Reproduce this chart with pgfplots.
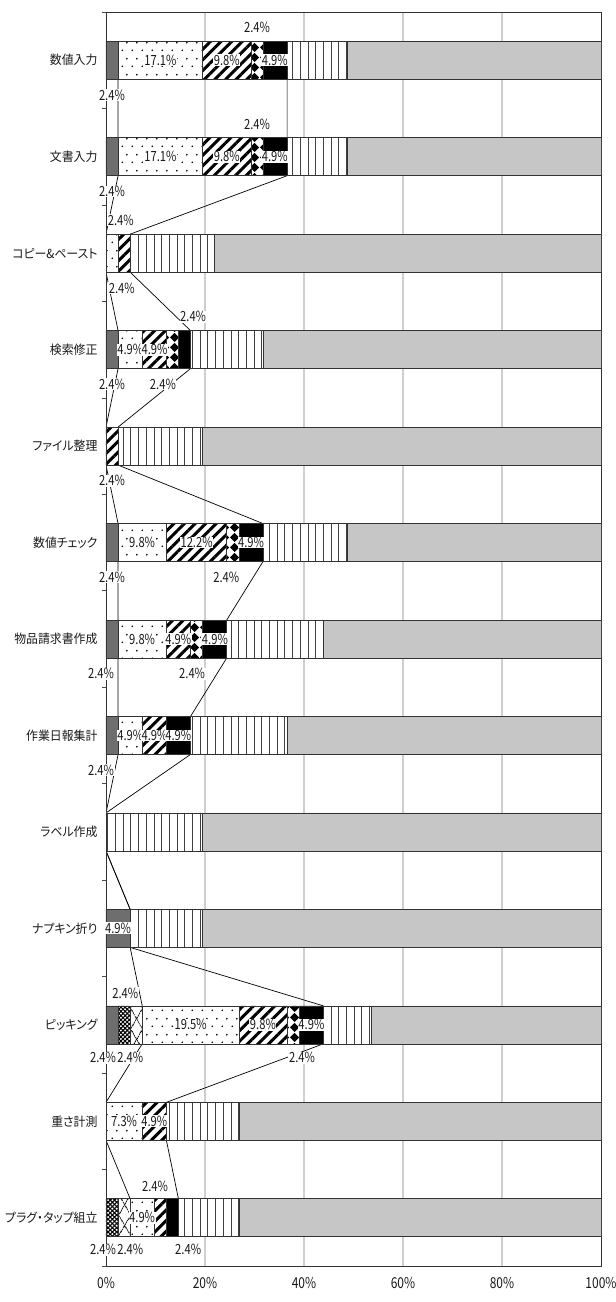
\documentclass[border=0pt]{standalone}
\usepackage{fontspec}
\setmainfont{Noto Sans CJK JP}
\newfontfamily\numfont{Noto Sans CJK JP}[FakeStretch=0.8]
\newfontfamily\jpfont{Noto Sans CJK JP}[RawFeature=+palt, FakeStretch=0.95]
\usepackage{pgfplots}
\pgfplotsset{compat=1.18}
\usetikzlibrary{patterns.meta}

\definecolor{dg}{HTML}{6E6E6E}
\definecolor{lg}{HTML}{C6C6C6}
\definecolor{gridc}{HTML}{CFCFCF}

\tikzdeclarepattern{
  name=sdots, type=uncolored,
  bottom left={(0,0)}, top right={(10bp,16bp)}, tile size={(10bp,16bp)},
  code={\tikzset{x=1bp,y=1bp}
    \fill (2.5,4) circle (1.0);
    \fill (7.5,12) circle (1.0);}
}
\tikzdeclarepattern{
  name=sdiamond, type=uncolored,
  bottom left={(0,0)}, top right={(10bp,10bp)}, tile size={(10bp,10bp)},
  code={\tikzset{x=1bp,y=1bp}
    \fill (5,0) -- (10,5) -- (5,10) -- (0,5) -- cycle;}
}

\pgfplotsset{
  base/.style={scale only axis, width=495bp, height=1254bp,
    at={(0,0)}, anchor=south west,
    xmin=0, xmax=100, ymin=-0.5, ymax=12.5, y dir=reverse},
  seg/.style={draw=black!80, line width=0.6bp, fill=white},
}
\newcommand{\lab}[3]{\node[fill=white, inner sep=0.6bp, font=\numfont\fontsize{14bp}{15bp}\selectfont, text=black!90] at (#1,#2) {#3};}

\begin{document}
\begin{tikzpicture}
\useasboundingbox (-106bp,-36bp) rectangle (510bp,1266bp);

% grid and series lines
\begin{axis}[base,
  axis line style={draw=none},
  xtick={20,40,60,80}, xticklabels={}, ytick=\empty,
  major tick length=0,
  xmajorgrids, grid style={draw=gridc, line width=1.3bp}]
\addplot[black, line width=0.7bp] coordinates {
  (2.44,-0.197)(2.44,0.197)(2.44,0.803)(2.44,1.197)(0,1.803)(0,2.197)
  (2.44,2.803)(2.44,3.197)(0,3.803)(0,4.197)(2.44,4.803)(2.44,5.197)
  (2.44,5.803)(2.44,6.197)(2.44,6.803)(2.44,7.197)(0,7.803)(0,8.197)
  (4.88,8.803)(4.88,9.197)(7.32,9.803)(7.32,10.197)(0,10.803)(0,11.197)
  (4.88,11.803)(4.88,12.197)};
\addplot[black, line width=0.7bp] coordinates {
  (36.59,-0.197)(36.59,0.197)(36.59,0.803)(36.59,1.197)(4.88,1.803)(4.88,2.197)
  (17.07,2.803)(17.07,3.197)(2.44,3.803)(2.44,4.197)(31.71,4.803)(31.71,5.197)
  (24.39,5.803)(24.39,6.197)(17.07,6.803)(17.07,7.197)(0,7.803)(0,8.197)
  (4.88,8.803)(4.88,9.197)(43.90,9.803)(43.90,10.197)(12.20,10.803)(12.20,11.197)
  (14.63,11.803)(14.63,12.197)};
\end{axis}

% stacked bars
\begin{axis}[base,
  xbar stacked, bar width=38bp,
  axis line style={draw=black!80, line width=0.8bp},
  xtick={0,20,...,100},
  xticklabel={\pgfmathprintnumber{\tick}\%},
  /pgf/number format/assume math mode=true,
  xticklabel style={font=\numfont\fontsize{15bp}{16bp}\selectfont, text=black!90, yshift=-8bp},
  ytick={0,...,12},
  yticklabels={数値入力,文書入力,コピー\&ペースト,検索修正,ファイル整理,数値チェック,物品請求書作成,作業日報集計,ラベル作成,ナプキン折り,ピッキング,重さ計測,プラグ・タップ組立},
  yticklabel style={font=\jpfont\fontsize{12.5bp}{14bp}\selectfont, text=black!90, xshift=-5bp},
  major tick length=0,
  minor ytick={-0.5,0.5,...,12.5},
  minor tick length=4bp, tick align=outside, ytick pos=left, xtick pos=bottom,
  minor tick style={draw=black!70, line width=0.6bp}]
% dark gray
\addplot[seg, fill=dg] coordinates {(2.44,0)(2.44,1)(0,2)(2.44,3)(0,4)(2.44,5)(2.44,6)(2.44,7)(0,8)(4.88,9)(2.44,10)(0,11)(0,12)};
% dense crosshatch
\addplot[seg, postaction={pattern={Hatch[angle=45,distance=3bp,line width=1.1bp]}}] coordinates {(0,0)(0,1)(0,2)(0,3)(0,4)(0,5)(0,6)(0,7)(0,8)(0,9)(2.44,10)(0,11)(2.44,12)};
% open diagonal cross
\addplot[seg, postaction={pattern={Lines[angle=60,distance=10bp,line width=0.8bp]}}, postaction={pattern={Lines[angle=120,distance=10bp,line width=0.8bp]}}] coordinates {(0,0)(0,1)(0,2)(0,3)(0,4)(0,5)(0,6)(0,7)(0,8)(0,9)(2.44,10)(0,11)(2.44,12)};
% dots
\addplot[seg, postaction={pattern=sdots}] coordinates {(17.07,0)(17.07,1)(2.44,2)(4.88,3)(0,4)(9.76,5)(9.76,6)(4.88,7)(0,8)(0,9)(19.51,10)(7.32,11)(4.88,12)};
% thick diagonal stripes
\addplot[seg, postaction={pattern={Lines[angle=45,distance=7.5bp,line width=3bp]}}] coordinates {(9.76,0)(9.76,1)(2.44,2)(4.88,3)(2.44,4)(12.20,5)(4.88,6)(4.88,7)(0,8)(0,9)(9.76,10)(4.88,11)(2.44,12)};
% diamonds
\addplot[seg, postaction={pattern=sdiamond}] coordinates {(2.44,0)(2.44,1)(0,2)(2.44,3)(0,4)(2.44,5)(2.44,6)(0,7)(0,8)(0,9)(2.44,10)(0,11)(0,12)};
% black
\addplot[seg, fill=black] coordinates {(4.88,0)(4.88,1)(0,2)(2.44,3)(0,4)(4.88,5)(4.88,6)(4.88,7)(0,8)(0,9)(4.88,10)(0,11)(2.44,12)};
% vertical lines
\addplot[seg, postaction={pattern={Lines[angle=90,distance=7.7bp,line width=0.9bp]}, pattern color=black!75}] coordinates {(12.20,0)(12.20,1)(17.07,2)(14.63,3)(17.07,4)(17.07,5)(19.51,6)(19.51,7)(19.51,8)(14.63,9)(9.76,10)(14.63,11)(12.20,12)};
% light gray
\addplot[seg, fill=lg] coordinates {(51.22,0)(51.22,1)(78.05,2)(68.29,3)(80.49,4)(51.22,5)(56.10,6)(63.41,7)(80.49,8)(80.49,9)(46.34,10)(73.17,11)(73.17,12)};
\end{axis}

% data labels
\begin{axis}[base, hide axis, clip=false]
\lab{1.2}{0.36}{2.4\%}\lab{11.0}{0}{17.1\%}\lab{24.4}{0}{9.8\%}\lab{30.5}{-0.34}{2.4\%}\lab{34.1}{0}{4.9\%}
\lab{1.2}{1.36}{2.4\%}\lab{11.0}{1}{17.1\%}\lab{24.4}{1}{9.8\%}\lab{30.5}{0.66}{2.4\%}\lab{34.1}{1}{4.9\%}
\lab{3.0}{1.66}{2.4\%}\lab{3.2}{2.36}{2.4\%}
\lab{1.2}{3.36}{2.4\%}\lab{4.9}{3}{4.9\%}\lab{9.8}{3}{4.9\%}\lab{11.5}{3.36}{2.4\%}\lab{17.6}{2.66}{2.4\%}
\lab{1.2}{4.36}{2.4\%}
\lab{1.2}{5.36}{2.4\%}\lab{7.3}{5}{9.8\%}\lab{18.3}{5}{12.2\%}\lab{24.3}{5.36}{2.4\%}\lab{29.3}{5}{4.9\%}
\lab{-1}{6.36}{2.4\%}\lab{7.3}{6}{9.8\%}\lab{14.6}{6}{4.9\%}\lab{17.4}{6.36}{2.4\%}\lab{22.0}{6}{4.9\%}
\lab{-1}{7.36}{2.4\%}\lab{4.9}{7}{4.9\%}\lab{9.8}{7}{4.9\%}\lab{14.6}{7}{4.9\%}
\lab{2.44}{9}{4.9\%}
\lab{-0.6}{10.34}{2.4\%}\lab{3.9}{9.67}{2.4\%}\lab{4.9}{10.34}{2.4\%}\lab{17.1}{10}{19.5\%}\lab{31.7}{10}{9.8\%}\lab{39.6}{10.34}{2.4\%}\lab{41.5}{10}{4.9\%}
\lab{3.66}{11}{7.3\%}\lab{9.76}{11}{4.9\%}
\lab{-0.6}{12.33}{2.4\%}\lab{4.9}{12.33}{2.4\%}\lab{7.3}{12}{4.9\%}\lab{9.9}{11.67}{2.4\%}\lab{16.6}{12.33}{2.4\%}
\end{axis}
\end{tikzpicture}
\end{document}
